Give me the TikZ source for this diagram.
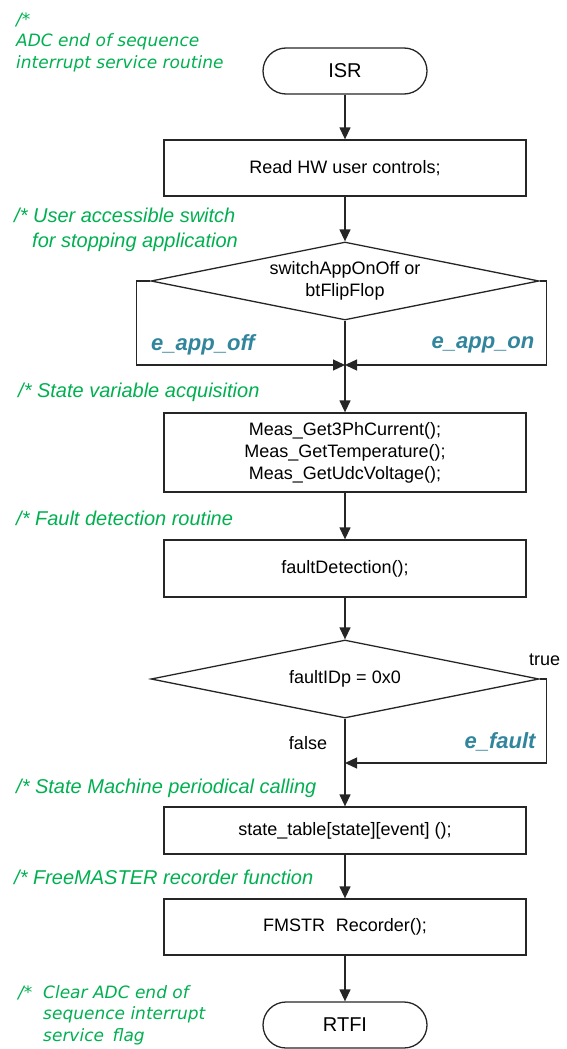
\documentclass[tikz,border=0pt]{standalone}
\usepackage{fontspec}
\setmainfont{Liberation Sans}
\newfontfamily\verdfont{DejaVu Sans}
\usetikzlibrary{shapes.geometric,arrows.meta}
\definecolor{cmtgreen}{HTML}{00B050}
\definecolor{evblue}{HTML}{31859C}
\tikzset{
    flowline/.style={line width=1.3pt, draw=black!85},
    procbox/.style={flowline, rectangle, minimum width=362pt, inner sep=0pt,
        align=center, font=\fontsize{18}{22}\selectfont},
    termbox/.style={flowline, rectangle, rounded corners=23pt, minimum width=164pt,
        minimum height=46pt, inner sep=0pt, font=\fontsize{20}{24}\selectfont},
    decbox/.style={flowline, diamond, aspect=5, minimum width=388pt, minimum height=78pt,
        inner sep=0pt, align=center, font=\fontsize{18}{22}\selectfont},
    cmt/.style={anchor=west, inner sep=0pt, align=left, text=cmtgreen,
        font=\fontsize{20}{25}\selectfont\itshape},
    cmtv/.style={cmt, font=\fontsize{17}{21.5}\selectfont\verdfont\itshape},
    evlabel/.style={inner sep=0pt, text=evblue, font=\fontsize{22}{26}\selectfont\bfseries\itshape},
    brlabel/.style={inner sep=0pt, font=\fontsize{18}{22}\selectfont}
}
\begin{document}
\begin{tikzpicture}[x=1pt, y=-1pt, >={Triangle[length=12pt,width=11pt]}]
    % 1. Khung trang
    \useasboundingbox (0,0) rectangle (566,1049);

    % 2. Cac khoi luu do
    \node[termbox] (isr) at (345,71) {ISR};
    \node[procbox, minimum height=56pt] (rdhw) at (345,168) {Read HW user controls;};
    \node[decbox] (swdec) at (345,281) {switchAppOnOff or\\btFlipFlop};
    \node[procbox, minimum height=79pt] (meas) at (345,452.5)
        {Meas\_Get3PhCurrent();\\Meas\_GetTemperature();\\Meas\_GetUdcVoltage();};
    \node[procbox, minimum height=57pt] (fdet) at (345,568.5) {faultDetection();};
    \node[decbox] (fdec) at (345,679) {faultIDp = 0x0};
    \node[procbox, minimum height=47pt] (smc) at (345,830.5) {state\_table[state][event] ();};
    \node[procbox, minimum height=56pt] (rec) at (345,927) {FMSTR\hspace{0.6em}Recorder();};
    \node[termbox] (rtfi) at (345,1025) {RTFI};

    % Diem noi cua cac nhanh
    \coordinate (join) at (345,365);
    \coordinate (merge) at (345,763);

    % 3. Mui ten chinh
    \draw[flowline, ->] (isr) -- (rdhw);
    \draw[flowline, ->] (rdhw) -- (swdec);
    \draw[flowline, ->] (swdec) -- (meas);
    \draw[flowline, ->] (meas) -- (fdet);
    \draw[flowline, ->] (fdet) -- (fdec);
    \draw[flowline, ->] (fdec) -- (smc);
    \draw[flowline, ->] (smc) -- (rec);
    \draw[flowline, ->] (rec) -- (rtfi);

    % 4. Cac nhanh ben trai va ben phai
    \draw[flowline, ->] (swdec.west) -- ++(-14,0) |- (join);
    \draw[flowline, ->] (swdec.east) -- ++(7,0) |- (join);
    \draw[flowline, ->] (fdec.east) -- ++(7,0) |- (merge);

    % 5. Nhan cac nhanh
    \node[evlabel] (offlbl) at (203,345) {e\_app\_off};
    \node[evlabel] (onlbl) at (483,345) {e\_app\_on};
    \node[evlabel] (fltlbl) at (500,742) {e\_fault};
    \node[brlabel, anchor=west] (truelbl) at (529,660) {true};
    \node[brlabel] (falselbl) at (308,743) {false};

    % 6. Chu thich mau xanh
    \node[cmtv] (c1) at (16,42) {/*\\ADC end of sequence\\interrupt service routine};
    \node[cmt] (c2) at (14,230) {/* User accessible switch\\\hspace*{18pt}for stopping application};
    \node[cmt] (c3) at (18,392) {/* State variable acquisition};
    \node[cmt] (c4) at (16,518) {/* Fault detection routine};
    \node[cmt] (c5) at (16,788) {/* State Machine periodical calling};
    \node[cmt] (c6) at (14,877) {/* FreeMASTER recorder function};
    \node[cmtv] (c7) at (18,1015) {\makebox[25pt][l]{/*}Clear ADC end of\\
        \hspace*{25pt}sequence interrupt\\\hspace*{25pt}service\hspace{0.5em}flag};
\end{tikzpicture}
\end{document}
